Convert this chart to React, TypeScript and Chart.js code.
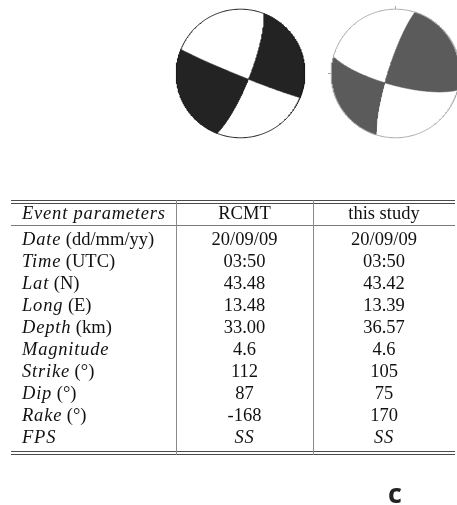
import React, { useEffect, useRef } from "react";
import { Chart, registerables } from "chart.js";

Chart.register(...registerables);

// Focal-mechanism solutions for the 20/09/09 event
const solutions = ["RCMT", "this study"];
const dates = ["20/09/09", "20/09/09"];
const times = ["03:50", "03:50"];
const lats = [43.48, 43.42];
const longs = [13.48, 13.39];
const depths = [33.0, 36.57];
const magnitudes = [4.6, 4.6];
const strikes = [112, 105];
const dips = [87, 75];
const rakes = [-168, 170];
const faultStyles = ["SS", "SS"];

const paramNames = ["Date", "Time", "Lat", "Long", "Depth", "Magnitude", "Strike", "Dip", "Rake", "FPS"];
const paramUnits = ["(dd/mm/yy)", "(UTC)", "(N)", "(E)", "(km)", "", "(°)", "(°)", "(°)", ""];

// Beach-ball look (one entry per solution)
const BALL_CENTER_X = [0, 2.41];
const BALL_FILL = ["#232323", "#5b5b5b"];
const BALL_EDGE = ["#1a1a1a", "#a8a8a8"];
const BALL_TICKS = [false, true];

// Plot window, in units of the ball radius
const X_MIN = -3.74;
const X_MAX = 3.367;
const Y_MIN = -1.19;
const Y_MAX = 1.143;

type V3 = [number, number, number]; // north, east, down
type P2 = { x: number; y: number };

const D2R = Math.PI / 180;
const dot = (a: V3, b: V3) => a[0] * b[0] + a[1] * b[1] + a[2] * b[2];
const cross = (a: V3, b: V3): V3 => [
  a[1] * b[2] - a[2] * b[1],
  a[2] * b[0] - a[0] * b[2],
  a[0] * b[1] - a[1] * b[0],
];
const neg = (a: V3): V3 => [-a[0], -a[1], -a[2]];
const add = (a: V3, b: V3): V3 => [a[0] + b[0], a[1] + b[1], a[2] + b[2]];
const unit = (a: V3): V3 => {
  const l = Math.hypot(a[0], a[1], a[2]);
  return [a[0] / l, a[1] / l, a[2] / l];
};

// Aki & Richards fault normal and slip vector
function faultVectors(strike: number, dip: number, rake: number) {
  const s = strike * D2R;
  const d = dip * D2R;
  const r = rake * D2R;
  const n: V3 = [-Math.sin(d) * Math.sin(s), Math.sin(d) * Math.cos(s), -Math.cos(d)];
  const u: V3 = [
    Math.cos(r) * Math.cos(s) + Math.cos(d) * Math.sin(r) * Math.sin(s),
    Math.cos(r) * Math.sin(s) - Math.cos(d) * Math.sin(r) * Math.cos(s),
    -Math.sin(r) * Math.sin(d),
  ];
  return { n, u };
}

// Lower-hemisphere equal-area projection
function project(v: V3): P2 {
  let [nn, ee, dd] = v;
  if (dd < 0) {
    nn = -nn;
    ee = -ee;
    dd = -dd;
  }
  const h = Math.hypot(nn, ee);
  if (h < 1e-12) return { x: 0, y: 0 };
  const inc = Math.acos(Math.min(1, dd));
  const r = Math.SQRT2 * Math.sin(inc / 2);
  return { x: (r * ee) / h, y: (r * nn) / h };
}

function slerp(a: V3, b: V3, steps: number): V3[] {
  const om = Math.acos(Math.max(-1, Math.min(1, dot(a, b))));
  const out: V3[] = [];
  for (let k = 0; k <= steps; k++) {
    const t = k / steps;
    if (om < 1e-9) {
      out.push(a);
      continue;
    }
    const w1 = Math.sin((1 - t) * om) / Math.sin(om);
    const w2 = Math.sin(t * om) / Math.sin(om);
    out.push([a[0] * w1 + b[0] * w2, a[1] * w1 + b[1] * w2, a[2] * w1 + b[2] * w2]);
  }
  return out;
}

const azimuth = (v: V3) => (Math.atan2(v[1], v[0]) + 2 * Math.PI) % (2 * Math.PI);

// The two nodal planes split the focal sphere into four spherical triangles;
// returns the compressional ones as projected polygons.
function compressionalQuadrants(strike: number, dip: number, rake: number): P2[][] {
  const { n, u } = faultVectors(strike, dip, rake);
  let b = unit(cross(n, u));
  if (b[2] < 0) b = neg(b);
  const ends: V3[] = [];
  for (const m of [n, u]) {
    const e = unit([m[1], -m[0], 0]);
    ends.push(e, neg(e));
  }
  ends.sort((p, q) => azimuth(p) - azimuth(q));
  const polys: P2[][] = [];
  for (let i = 0; i < 4; i++) {
    const a = ends[i];
    const c = ends[(i + 1) % 4];
    const probe = unit(add(add(a, c), b));
    if (dot(n, probe) * dot(u, probe) <= 0) continue;
    const a0 = azimuth(a);
    let a1 = azimuth(c);
    if (a1 <= a0) a1 += 2 * Math.PI;
    const pts: P2[] = [];
    const steps = Math.max(2, Math.ceil((a1 - a0) / D2R));
    for (let k = 0; k <= steps; k++) {
      const az = a0 + ((a1 - a0) * k) / steps;
      pts.push({ x: Math.sin(az), y: Math.cos(az) });
    }
    for (const p of slerp(c, b, 60)) pts.push(project(p));
    for (const p of slerp(b, a, 60)) pts.push(project(p));
    polys.push(pts);
  }
  return polys;
}

function circle(cx: number): P2[] {
  const pts: P2[] = [];
  for (let k = 0; k <= 360; k++) {
    const t = k * D2R;
    pts.push({ x: cx + Math.sin(t), y: Math.cos(t) });
  }
  return pts;
}

function BeachBalls() {
  const ref = useRef<HTMLCanvasElement | null>(null);
  useEffect(() => {
    if (!ref.current) return;
    const datasets: any[] = [];
    solutions.forEach((_, i) => {
      const cx = BALL_CENTER_X[i];
      for (const poly of compressionalQuadrants(strikes[i], dips[i], rakes[i])) {
        datasets.push({
          data: poly.map((p) => ({ x: p.x + cx, y: p.y })),
          showLine: true,
          fill: "shape",
          backgroundColor: BALL_FILL[i],
          borderColor: BALL_FILL[i],
          borderWidth: 0.6,
          pointRadius: 0,
          order: 2,
        });
      }
      datasets.push({
        data: circle(cx),
        showLine: true,
        fill: false,
        borderColor: BALL_EDGE[i],
        borderWidth: 1,
        pointRadius: 0,
        order: 1,
      });
      if (BALL_TICKS[i]) {
        const ticks: P2[][] = [
          [{ x: cx, y: 1 }, { x: cx, y: 1.05 }],
          [{ x: cx - 1, y: 0 }, { x: cx - 1.05, y: 0 }],
        ];
        for (const t of ticks) {
          datasets.push({
            data: t,
            showLine: true,
            fill: false,
            borderColor: BALL_EDGE[i],
            borderWidth: 1,
            pointRadius: 0,
            order: 1,
          });
        }
      }
    });
    const chart = new Chart(ref.current, {
      type: "scatter",
      data: { datasets },
      options: {
        animation: false,
        responsive: false,
        events: [],
        layout: { padding: 0 },
        plugins: { legend: { display: false }, tooltip: { enabled: false } },
        elements: { line: { tension: 0 }, point: { radius: 0 } },
        scales: {
          x: { type: "linear", display: false, min: X_MIN, max: X_MAX },
          y: { type: "linear", display: false, min: Y_MIN, max: Y_MAX },
        },
      },
    });
    return () => chart.destroy();
  }, []);
  return (
    <canvas
      ref={ref}
      width={457}
      height={150}
      style={{ position: "absolute", left: 0, top: 0, width: 457, height: 150, display: "block" }}
    />
  );
}

const SERIF = '"Liberation Serif", "DejaVu Serif", serif';
const ITALIC: React.CSSProperties = { fontStyle: "italic", letterSpacing: "0.8px" };

const f2 = (v: number) => v.toFixed(2);
const rowValues: string[][] = [
  dates,
  times,
  lats.map(f2),
  longs.map(f2),
  depths.map(f2),
  magnitudes.map((v) => v.toFixed(1)),
  strikes.map(String),
  dips.map(String),
  rakes.map(String),
  faultStyles,
];

const COL_X = [11, 176, 313, 455];
const ROW0 = 239;
const ROW_STEP = 22;
const HEADER_Y = 213;

function Cell({ x, w, cy, align, children }: any) {
  return (
    <div
      style={{
        position: "absolute",
        left: x,
        width: w,
        top: cy - 11,
        height: 22,
        lineHeight: "22px",
        textAlign: align,
        whiteSpace: "nowrap",
        color: "#111",
      }}
    >
      {children}
    </div>
  );
}

function HLine({ y, color }: { y: number; color: string }) {
  return (
    <div
      style={{
        position: "absolute",
        left: COL_X[0],
        width: COL_X[3] - COL_X[0],
        top: y,
        height: 1,
        background: color,
      }}
    />
  );
}

function ParamTable() {
  const colW = [COL_X[1] - COL_X[0], COL_X[2] - COL_X[1], COL_X[3] - COL_X[2]];
  return (
    <div style={{ position: "absolute", left: 0, top: 0, width: 457, height: 505, fontFamily: SERIF, fontSize: 18.5 }}>
      <HLine y={200} color="#4a4a4a" />
      <HLine y={203} color="#4a4a4a" />
      <HLine y={225} color="#7a7a7a" />
      <HLine y={451} color="#4a4a4a" />
      <HLine y={454} color="#4a4a4a" />
      {[COL_X[1], COL_X[2]].map((x) => (
        <div key={x} style={{ position: "absolute", left: x, top: 200, width: 1, height: 255, background: "#8a8a8a" }} />
      ))}
      <Cell x={COL_X[0] + 11} w={colW[0] - 11} cy={HEADER_Y} align="left">
        <span style={ITALIC}>Event parameters</span>
      </Cell>
      {solutions.map((s, i) => (
        <Cell key={s} x={COL_X[i + 1]} w={colW[i + 1]} cy={HEADER_Y} align="center">
          {s}
        </Cell>
      ))}
      {paramNames.map((name, r) => {
        const cy = ROW0 + r * ROW_STEP;
        const italicValue = name === "FPS";
        return (
          <React.Fragment key={name}>
            <Cell x={COL_X[0] + 11} w={colW[0] - 11} cy={cy} align="left">
              <span style={ITALIC}>{name}</span>
              {paramUnits[r] ? " " + paramUnits[r] : ""}
            </Cell>
            {rowValues[r].map((v, i) => (
              <Cell key={i} x={COL_X[i + 1]} w={colW[i + 1]} cy={cy} align="center">
                {italicValue ? <span style={ITALIC}>{v}</span> : v}
              </Cell>
            ))}
          </React.Fragment>
        );
      })}
      <div
        style={{
          position: "absolute",
          left: 384,
          top: 478,
          width: 22,
          textAlign: "center",
          fontFamily: '"Open Sans", "DejaVu Sans", sans-serif',
          fontWeight: 700,
          fontSize: 27,
          lineHeight: "30px",
          color: "#222",
        }}
      >
        c
      </div>
    </div>
  );
}

export default function App() {
  return (
    <div style={{ position: "absolute", left: 0, top: 0, width: 457, height: 505, background: "#fff", overflow: "hidden" }}>
      <BeachBalls />
      <ParamTable />
    </div>
  );
}
